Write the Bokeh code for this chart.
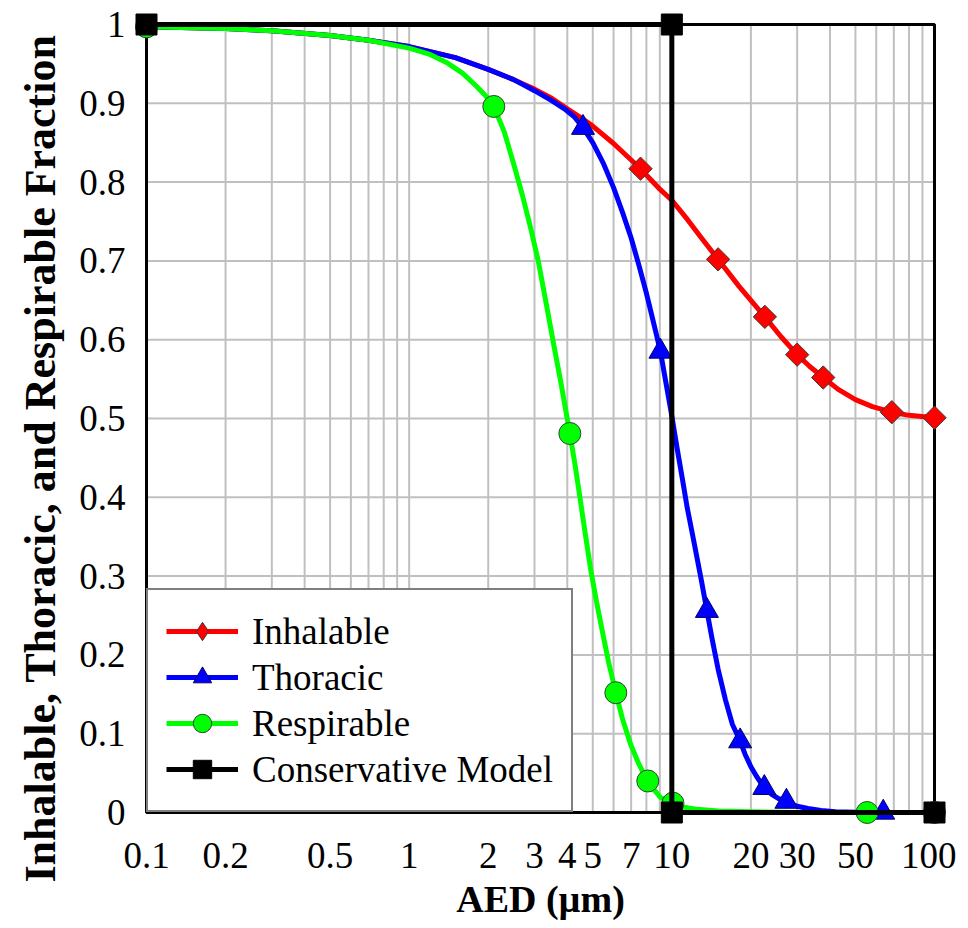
import math
from bokeh.plotting import figure
from bokeh.models import Range1d, FixedTicker, Legend, LegendItem, Title
from bokeh.embed import file_html
from bokeh.resources import INLINE

# ---------------- data ----------------
# Inhalable fraction (red line + diamond markers)
inh_x = [0.1, 0.2, 0.3, 0.5, 0.7, 1.0, 1.5, 2.0, 2.5, 3.0, 3.5, 4.0, 4.5, 5.0, 6.0, 7.6,
         9.0, 10.0, 11.5, 12.9, 15.0, 18.0, 20.0, 22.6, 26.0, 30.0, 33.5, 37.7, 43.0,
         50.0, 58.0, 68.8, 80.0, 100.0]
inh_y = [0.997, 0.995, 0.992, 0.986, 0.980, 0.972, 0.958, 0.943, 0.930, 0.918, 0.906,
         0.893, 0.882, 0.871, 0.849, 0.817, 0.791, 0.777, 0.752, 0.730, 0.702, 0.668,
         0.650, 0.629, 0.604, 0.581, 0.566, 0.552, 0.537, 0.524, 0.515, 0.508, 0.504,
         0.501]
inh_mx = [7.6, 15.0, 22.6, 30.0, 37.7, 68.8, 100.0]
inh_my = [0.817, 0.702, 0.629, 0.581, 0.552, 0.508, 0.501]

# Thoracic fraction (blue line + triangle markers)
tho_x = [0.1, 0.2, 0.3, 0.5, 0.7, 1.0, 1.5, 2.0, 2.5, 3.0, 3.5, 3.9, 4.25, 4.59, 5.0,
         5.5, 6.0, 6.5, 7.0, 7.5, 8.0, 8.5, 9.05, 9.5, 10.0, 10.5, 11.0, 11.44, 12.0,
         12.49, 13.0, 13.6, 14.2, 15.0, 16.0, 17.0, 18.2, 19.0, 20.0, 21.0, 22.5, 24.0,
         25.5, 27.3, 30.0, 33.0, 37.0, 42.0, 50.0, 63.8, 100.0]
tho_y = [0.997, 0.995, 0.992, 0.986, 0.980, 0.972, 0.958, 0.943, 0.930, 0.916, 0.903,
         0.893, 0.883, 0.869, 0.850, 0.823, 0.793, 0.761, 0.729, 0.694, 0.659, 0.623,
         0.585, 0.545, 0.503, 0.460, 0.421, 0.387, 0.352, 0.322, 0.292, 0.256, 0.222,
         0.182, 0.143, 0.112, 0.0905, 0.074, 0.058, 0.046, 0.0313, 0.023, 0.0175, 0.0138,
         0.008, 0.005, 0.0025, 0.001, 0.0003, 0.0, 0.0]
tho_mx = [4.59, 9.05, 13.6, 18.2, 22.5, 27.3, 63.8]
tho_my = [0.869, 0.585, 0.256, 0.0905, 0.0313, 0.0138, 0.0]

# Respirable fraction (green line + circle markers)
res_x = [0.1, 0.2, 0.3, 0.5, 0.7, 1.0, 1.2, 1.4, 1.6, 1.8, 2.0, 2.1, 2.3, 2.5, 2.7, 2.9,
         3.1, 3.35, 3.55, 3.77, 4.09, 4.3, 4.49, 4.7, 4.9, 5.15, 5.43, 5.75, 6.12, 6.5,
         6.96, 7.5, 8.1, 8.6, 9.05, 10.1, 11.0, 12.5, 15.0, 20.0, 30.0, 55.4, 100.0]
res_y = [0.997, 0.995, 0.992, 0.986, 0.980, 0.970, 0.962, 0.951, 0.938, 0.922, 0.906,
         0.896, 0.864, 0.823, 0.783, 0.742, 0.700, 0.640, 0.594, 0.548, 0.481, 0.437,
         0.395, 0.350, 0.310, 0.270, 0.231, 0.190, 0.152, 0.118, 0.087, 0.061, 0.040,
         0.028, 0.019, 0.0118, 0.007, 0.004, 0.002, 0.001, 0.0, 0.0, 0.0]
res_mx = [0.1, 2.1, 4.09, 6.12, 8.1, 10.1, 55.4, 100.0]
res_my = [0.997, 0.896, 0.481, 0.152, 0.040, 0.0118, 0.0, 0.0]

# Conservative model (black step)
con_x = [0.1, 10.0, 10.0, 100.0]
con_y = [1.0, 1.0, 0.0, 0.0]

# axes
x_ticks = [0.1, 0.2, 0.5, 1, 2, 3, 4, 5, 7, 10, 20, 30, 50, 100]
x_tick_labels = ["0.1", "0.2", "0.5", "1", "2", "3", "4", "5", "7", "10", "20", "30", "50", "100"]
y_ticks = [0, 0.1, 0.2, 0.3, 0.4, 0.5, 0.6, 0.7, 0.8, 0.9, 1]
y_tick_labels = ["0", "0.1", "0.2", "0.3", "0.4", "0.5", "0.6", "0.7", "0.8", "0.9", "1"]
x_title = "AED (\u00b5m)"
y_title = "Inhalable, Thoracic, and Respirable Fraction"
series_names = ["Inhalable", "Thoracic", "Respirable", "Conservative Model"]

# ---------------- layout ----------------
X_LO, X_HI = 0.1, 100.0
Y_LO, Y_HI = 0.0, 1.0
BOX = 788          # data box size in px
PAD = 14           # extra frame around data box so edge markers are not clipped
dec = math.log10(X_HI) - math.log10(X_LO)
xpad = dec * PAD / BOX
ypad = (Y_HI - Y_LO) * PAD / BOX

SERIF = "Liberation Serif"
FS = "37px"

p = figure(x_axis_type="log", output_backend="svg", toolbar_location=None,
           x_range=Range1d(10 ** (math.log10(X_LO) - xpad), 10 ** (math.log10(X_HI) + xpad)),
           y_range=Range1d(Y_LO - ypad, Y_HI + ypad),
           frame_width=BOX + 2 * PAD, frame_height=BOX + 2 * PAD,
           min_border_left=132, min_border_right=8, min_border_top=10, min_border_bottom=102)
p.outline_line_color = None
p.xgrid.visible = False
p.ygrid.visible = False
p.background_fill_color = "white"
p.border_fill_color = "white"

for ax in (p.xaxis, p.yaxis):
    ax.axis_line_color = None
    ax.major_tick_line_color = None
    ax.minor_tick_line_color = None
    ax.major_label_text_font = SERIF
    ax.major_label_text_font_size = FS
    ax.major_label_text_color = "black"

p.xaxis.ticker = FixedTicker(ticks=x_ticks, minor_ticks=[])
p.xaxis.major_label_overrides = dict(zip(x_ticks, x_tick_labels))
p.xaxis.major_label_standoff = 10
p.yaxis.ticker = FixedTicker(ticks=y_ticks, minor_ticks=[])
p.yaxis.major_label_overrides = dict(zip(y_ticks, y_tick_labels))
p.yaxis.major_label_standoff = 1

# grid lines (limited to the data box)
x_grid = [m * 10.0 ** e for e in (-1, 0, 1) for m in range(1, 10)] + [X_HI]
p.segment(x0=x_grid, x1=x_grid, y0=[Y_LO] * len(x_grid), y1=[Y_HI] * len(x_grid),
          line_color="#c0c0c0", line_width=2)
p.segment(x0=[X_LO] * len(y_ticks), x1=[X_HI] * len(y_ticks), y0=y_ticks, y1=y_ticks,
          line_color="#c0c0c0", line_width=2)
# plot-area border
p.quad(left=[X_LO], right=[X_HI], bottom=[Y_LO], top=[Y_HI],
       fill_color=None, line_color="black", line_width=3)

# series
r_inh_l = p.line(inh_x, inh_y, line_color="#ff0000", line_width=5, line_join="round")
p.scatter(inh_mx, inh_my, marker="square", angle=math.pi / 4, size=16.5,
          fill_color="#ff0000", line_color="#3a3a3a", line_width=1)
# legend-only diamond symbol (no visible point in the plot area)
r_inh_leg = p.scatter(x=[inh_mx[0]], y=[float("nan")], marker="diamond", size=20,
                      fill_color="#ff0000", line_color="#3a3a3a", line_width=1)
r_tho_l = p.line(tho_x, tho_y, line_color="#0000ff", line_width=5, line_join="round")
r_tho_m = p.scatter(tho_mx, tho_my, marker="triangle", size=23,
                    fill_color="#0000ff", line_color="#000066", line_width=1)
r_res_l = p.line(res_x, res_y, line_color="#00ff00", line_width=5, line_join="round")
r_res_m = p.scatter(res_mx, res_my, marker="circle", size=22,
                    fill_color="#00ff00", line_color="#2a4a2a", line_width=1)
r_con_l = p.line(con_x, con_y, line_color="black", line_width=5)
r_con_m = p.scatter(con_x, con_y, marker="square", size=21,
                    fill_color="black", line_color="black", line_width=1)

legend = Legend(items=[
    LegendItem(label=series_names[0], renderers=[r_inh_l, r_inh_leg]),
    LegendItem(label=series_names[1], renderers=[r_tho_l, r_tho_m]),
    LegendItem(label=series_names[2], renderers=[r_res_l, r_res_m]),
    LegendItem(label=series_names[3], renderers=[r_con_l, r_con_m]),
], location=(PAD, PAD), label_text_font=SERIF, label_text_font_size=FS,
   label_text_color="black", glyph_width=72, glyph_height=46, label_height=46,
   spacing=0, padding=18, label_standoff=14,
   border_line_color="black", border_line_width=2, background_fill_color="white",
   background_fill_alpha=1.0, margin=0)
p.add_layout(legend)

p.add_layout(Title(text=y_title, align="left", offset=-56, standoff=24,
                   text_font=SERIF, text_font_size="44px", text_font_style="bold",
                   text_color="black"), "left")
p.add_layout(Title(text=x_title, align="center", standoff=10,
                   text_font=SERIF, text_font_size="38px", text_font_style="bold",
                   text_color="black"), "below")

open("out.html", "w").write(file_html(p, INLINE))
